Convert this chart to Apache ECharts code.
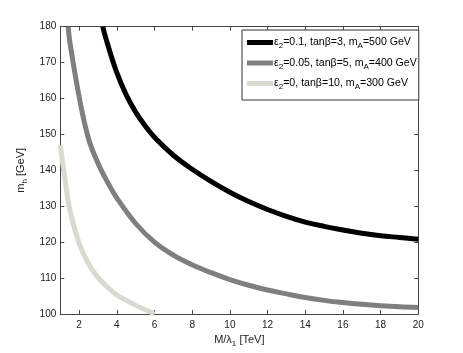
<!DOCTYPE html>
<html>
<head>
<meta charset="utf-8">
<script src="https://cdn.jsdelivr.net/npm/echarts@6/dist/echarts.min.js"></script>
<style>html,body{margin:0;padding:0;background:#fff}#c{width:463px;height:353px}</style>
</head>
<body>
<div id="c"></div>
<script>
const xTicks = [2,4,6,8,10,12,14,16,18,20];
const yTicks = [100,110,120,130,140,150,160,170,180];
const blackX = [3.25,3.5,4,4.5,5,5.5,6,7,8,9,10,11,12,13,14,15,16,17,18,19,20];
const blackY = [180,175.3,167.2,161,156.2,152.4,149.2,144.2,140.3,136.9,133.9,131.3,129.1,127.2,125.6,124.4,123.4,122.5,121.8,121.3,120.8];
const grayX = [1.42,1.5,2,2.5,3,3.5,4,5,6,7,8,9,10,11,12,13,14,15,16,17,18,19,20];
const grayY = [180,176,160.5,148.8,142,136.8,132.3,125.2,120,116.4,113.7,111.5,109.6,108,106.7,105.6,104.6,103.8,103.2,102.7,102.3,102,101.8];
const lightX = [1,1.25,1.5,2,2.5,3,3.5,4,4.5,5,5.5,6];
const lightY = [147,137.5,129.2,119.7,114,110.2,107.5,105.3,103.8,102.4,101.2,100];
const names = ['s1','s2','s3'];
const labels = {
  s1: '{a|ε}{s|2}{a|=0.1, tanβ=3, m}{s|A}{a|=500 GeV}',
  s2: '{a|ε}{s|2}{a|=0.05, tanβ=5, m}{s|A}{a|=400 GeV}',
  s3: '{a|ε}{s|2}{a|=0, tanβ=10, m}{s|A}{a|=300 GeV}'
};
const zip = (xs, ys) => xs.map((x, i) => [x, ys[i]]);
const font = 'Liberation Sans, Arial, sans-serif';
const axisLineStyle = {color: '#444', width: 1};
const chart = echarts.init(document.getElementById('c'));
const richSub = {
  a: {fontSize: 10.6, fontFamily: font, color: '#000'},
  s: {fontSize: 8, fontFamily: font, color: '#000', padding: [7, 0, 0, 0]}
};
chart.setOption({
  animation: false,
  textStyle: {fontFamily: font},
  grid: {left: 60.3, right: 44.7, top: 26.7, bottom: 39},
  xAxis: [{
    type: 'value', min: 1, max: 20, position: 'bottom',
    name: '{a|M/λ}{s|1}{a| [TeV]}', nameLocation: 'middle', nameGap: 13,
    nameTextStyle: {rich: {
      a: {fontSize: 11, fontFamily: font, color: '#222'},
      s: {fontSize: 8, fontFamily: font, color: '#222', padding: [7, 0, 0, 0]}
    }},
    axisLine: {show: true, lineStyle: axisLineStyle},
    axisTick: {show: true, inside: true, length: 4, customValues: xTicks, lineStyle: axisLineStyle},
    axisLabel: {customValues: xTicks, fontSize: 10, color: '#222', margin: 6},
    splitLine: {show: false}
  }, {
    type: 'value', min: 1, max: 20, position: 'top',
    axisLine: {show: true, lineStyle: axisLineStyle},
    axisTick: {show: true, inside: true, length: 4, customValues: xTicks, lineStyle: axisLineStyle},
    axisLabel: {show: false},
    splitLine: {show: false}
  }],
  yAxis: [{
    type: 'value', min: 100, max: 180, interval: 10, position: 'left',
    name: '{a|m}{s|h}{a| [GeV]}', nameLocation: 'middle', nameGap: 23, nameRotate: 90,
    nameTextStyle: {rich: {
      a: {fontSize: 11, fontFamily: font, color: '#222'},
      s: {fontSize: 8, fontFamily: font, color: '#222', padding: [7, 0, 0, 0]}
    }},
    axisLine: {show: true, lineStyle: axisLineStyle},
    axisTick: {show: true, inside: true, length: 4, lineStyle: axisLineStyle},
    axisLabel: {fontSize: 10, color: '#222', margin: 4},
    splitLine: {show: false}
  }, {
    type: 'value', min: 100, max: 180, interval: 10, position: 'right',
    axisLine: {show: true, lineStyle: axisLineStyle},
    axisTick: {show: true, inside: true, length: 4, lineStyle: axisLineStyle},
    axisLabel: {show: false},
    splitLine: {show: false}
  }],
  legend: {
    data: names, orient: 'vertical', left: 242, top: 30,
    backgroundColor: '#fff', borderColor: '#333', borderWidth: 1, borderRadius: 0,
    padding: [7, 2, 9, 5], itemGap: 7.5, itemWidth: 26, itemHeight: 5,
    icon: 'rect',
    formatter: n => labels[n],
    textStyle: {rich: richSub, padding: [0, 0, 0, -4]}
  },
  series: [
    {name: 's1', type: 'line', data: zip(blackX, blackY), showSymbol: false, smooth: 0.4,
     lineStyle: {color: '#000', width: 5}, itemStyle: {color: '#000'}},
    {name: 's2', type: 'line', data: zip(grayX, grayY), showSymbol: false, smooth: 0.4,
     lineStyle: {color: '#7f7f7f', width: 5}, itemStyle: {color: '#7f7f7f'}},
    {name: 's3', type: 'line', data: zip(lightX, lightY), showSymbol: false, smooth: 0.4,
     lineStyle: {color: '#d9dad0', width: 5}, itemStyle: {color: '#d9dad0'}}
  ]
});
</script>
</body>
</html>
